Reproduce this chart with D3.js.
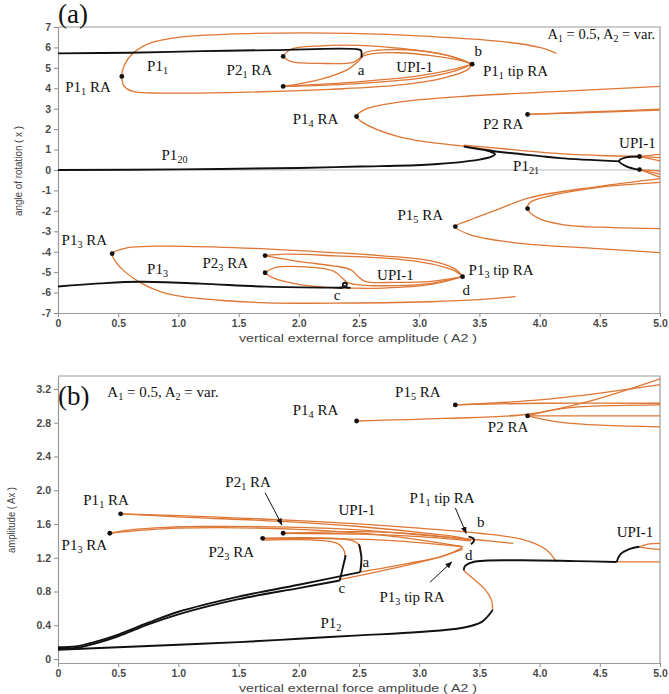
<!DOCTYPE html>
<html>
<head>
<meta charset="utf-8">
<script src="https://cdn.jsdelivr.net/npm/d3@7"></script>
<style>
  body { margin: 0; background: #fff; }
</style>
</head>
<body>
<div id="chart"></div>
<script>
'use strict';

// tick values
var xTicks = [0, 0.5, 1, 1.5, 2, 2.5, 3, 3.5, 4, 4.5, 5];
var yTicksA = [-7, -6, -5, -4, -3, -2, -1, 0, 1, 2, 3, 4, 5, 6, 7];
var yTicksB = [0, 0.4, 0.8, 1.2, 1.6, 2.0, 2.4, 2.8, 3.2];

// ---- panel (a): angle of rotation vs A2, points are [A2, x] ----
// orange (rare attractor) branches
var aP11RA = [[4.14,5.71],[4.0,6.0],[3.67,6.3],[3.09,6.54],[2.43,6.69],[1.59,6.68],[1.01,6.5],[0.76,6.2],[0.62,5.7],[0.55,5.11],[0.53,4.58],[0.55,4.1],[0.62,3.85],[0.8,3.77],[1.5,3.8],[2.26,3.95],[2.82,4.15],[3.2,4.5],[3.4,4.9],[3.44,5.18]];
var aP21Top = [[1.87,5.56],[1.93,5.9],[2.18,6.08],[2.51,6.1],[2.82,5.97],[3.23,5.62],[3.44,5.18]];
var aP21Mid = [[1.87,5.56],[1.93,5.32],[2.18,5.22],[2.45,5.27],[2.51,5.5],[2.55,5.74],[2.7,5.88],[3.01,5.83],[3.3,5.5],[3.44,5.18]];
var aUPI1Top = [[2.52,5.55],[2.6,5.68],[2.82,5.74],[3.1,5.6],[3.35,5.35],[3.44,5.18]];
var aP21Low1 = [[1.87,4.09],[2.18,4.44],[2.4,4.9],[2.49,5.3],[2.53,5.55]];
var aP21Low2 = [[1.87,4.09],[2.45,4.22],[3.01,4.5],[3.3,4.85],[3.44,5.18]];
var aP21Low3 = [[1.87,4.09],[2.45,4.3],[3.01,4.62],[3.3,4.95],[3.44,5.18]];
var aP14RA = [[5.0,4.09],[4.17,3.85],[3.36,3.6],[2.82,3.31],[2.55,2.97],[2.48,2.62],[2.53,2.33],[2.82,1.64],[3.09,1.35],[3.37,1.17],[3.6,0.98]];
var aP14Cont = [[3.37,1.22],[3.7,1.04],[4.17,0.8],[4.5,0.71],[4.83,0.66]];
var aP2RA1 = [[3.9,2.72],[4.4,2.84],[5.0,2.98]];
var aP2RA2 = [[3.9,2.72],[4.4,2.81],[5.0,2.93]];
var aUPIR1 = [[4.83,0.66],[4.92,0.72],[5.0,0.76]];
var aUPIR2 = [[4.83,0.66],[4.92,0.63],[5.0,0.61]];
var aUPIR3 = [[4.83,0.66],[4.92,0.55],[5.0,0.45]];
var aUPIR4 = [[4.83,0.02],[4.92,-0.02],[5.0,-0.05]];
var aUPIR5 = [[4.83,0.02],[4.92,-0.1],[5.0,-0.2]];
var aUPIR6 = [[4.83,0.02],[4.92,-0.18],[5.0,-0.35]];
var aP15RA = [[5.0,-0.42],[4.48,-0.81],[3.92,-1.35],[3.65,-1.94],[3.42,-2.45],[3.3,-2.77],[3.42,-3.16],[3.78,-3.55],[4.48,-3.85],[5.0,-4.04]];
var aP15In = [[5.0,-0.61],[4.48,-0.86],[4.06,-1.3],[3.92,-1.59],[3.9,-1.89],[3.98,-2.33],[4.19,-2.67],[4.61,-2.82],[5.0,-2.87]];
var aP13RA = [[3.36,-5.22],[3.3,-4.85],[3.09,-4.44],[2.7,-4.2],[2.28,-4.04],[1.46,-3.8],[0.8,-3.73],[0.58,-3.8],[0.45,-4.09],[0.48,-4.5],[0.55,-4.95],[0.68,-5.5],[0.85,-5.95],[1.04,-6.2],[1.4,-6.4],[1.73,-6.5],[2.28,-6.52],[3.09,-6.45],[3.5,-6.35],[3.8,-6.2]];
var aP23Up1 = [[1.72,-4.19],[1.9,-4.12],[2.3,-4.2],[2.8,-4.35],[3.1,-4.6],[3.3,-4.95],[3.36,-5.22]];
var aP23Up2 = [[1.72,-4.19],[2.01,-4.49],[2.43,-4.88],[2.49,-5.2],[2.55,-5.45],[2.8,-5.5],[3.1,-5.45],[3.36,-5.22]];
var aP23Loop1 = [[1.72,-5.03],[1.8,-4.78],[2.01,-4.73],[2.28,-4.93],[2.36,-5.27],[2.4,-5.5],[2.5,-5.62],[2.8,-5.66],[3.1,-5.55],[3.36,-5.22]];
var aP23Loop2 = [[1.72,-5.03],[1.78,-5.27],[2.01,-5.61],[2.28,-5.76],[2.4,-5.78],[2.7,-5.78],[3.1,-5.6],[3.36,-5.22]];
// black (main) branches
var aP11 = [[0,5.71],[0.6,5.74],[1.2,5.82],[1.8,5.87],[2.51,5.88],[2.52,5.8],[2.52,5.5]];
var aP120 = [[0,0],[1,0.03],[2,0.1],[2.5,0.17],[3.09,0.27],[3.5,0.51],[3.6,0.65],[3.63,0.78],[3.6,0.88],[3.55,0.97]];
var aP121 = [[3.37,1.15],[3.61,0.93],[4.0,0.68],[4.17,0.58],[4.67,0.42]];
var aUPIBlack = [[4.83,0.66],[4.72,0.62],[4.66,0.45],[4.72,0.18],[4.82,0.02]];
var aP13 = [[0,-5.7],[0.35,-5.55],[0.68,-5.47],[1.18,-5.56],[1.73,-5.71],[2.28,-5.76],[2.37,-5.76]];
var aCHook = [[2.33,-5.77],[2.38,-5.72],[2.4,-5.6],[2.385,-5.52],[2.365,-5.58],[2.38,-5.72],[2.43,-5.77]];
var dotsA = [[0.53,4.58],[1.87,5.56],[1.87,4.09],[3.44,5.18],[2.48,2.62],[3.9,2.72],[4.83,0.66],[4.83,0.02],[3.3,-2.77],[3.9,-1.89],[0.45,-4.09],[1.72,-4.19],[1.72,-5.03],[3.36,-5.22]];
var labelsA = [
  ['P1_{1}', 0.74, 4.83], ['P1_{1} RA', 0.06, 3.8], ['P2_{1} RA', 1.4, 4.63], ['a', 2.49, 4.63],
  ['UPI-1', 2.81, 4.78], ['b', 3.46, 5.56], ['P1_{1} tip RA', 3.53, 4.58], ['P1_{4} RA', 1.95, 2.23],
  ['P2 RA', 3.53, 1.99], ['P1_{20}', 0.86, 0.51], ['UPI-1', 4.66, 1.1], ['P1_{21}', 3.78, -0.07],
  ['P1_{5} RA', 2.82, -2.43], ['P1_{3} RA', 0.03, -3.65], ['P1_{3}', 0.74, -5.07], ['P2_{3} RA', 1.2, -4.78],
  ['UPI-1', 2.65, -5.37], ['P1_{3} tip RA', 3.41, -5.12], ['c', 2.29, -6.35], ['d', 3.36, -6.1]
];

// ---- panel (b): amplitude vs A2, points are [A2, Ax] ----
var bP11RA1 = [[0.52,1.72],[1.0,1.7],[1.5,1.67],[2.0,1.64],[2.5,1.6],[3.0,1.55],[3.5,1.49],[3.85,1.42],[4.05,1.3],[4.14,1.15]];
var bP11RA2 = [[0.52,1.72],[1.0,1.685],[2.0,1.62],[2.5,1.57],[3.0,1.5],[3.3,1.45],[3.43,1.41]];
var bP13RA1 = [[0.43,1.49],[0.6,1.53],[0.9,1.56],[1.2,1.57],[2.0,1.56],[2.5,1.53],[3.0,1.47],[3.5,1.41],[3.78,1.37]];
var bP13RA2 = [[0.43,1.49],[1.0,1.55],[2.0,1.535],[2.8,1.45],[3.36,1.33]];
var bP21a = [[1.87,1.49],[2.5,1.48],[3.0,1.45],[3.43,1.4]];
var bP21b = [[1.87,1.49],[2.5,1.51],[3.0,1.48],[3.43,1.41]];
var bP23Tip = [[1.7,1.43],[2.5,1.42],[3.0,1.38],[3.36,1.33]];
var bP23A = [[1.7,1.43],[2.45,1.4],[2.51,1.33],[2.51,1.26]];
var bP23C = [[1.7,1.41],[2.32,1.37],[2.38,1.27],[2.38,1.21]];
var bAtoD = [[2.51,1.03],[2.9,1.13],[3.2,1.22],[3.36,1.32]];
var bCtoD = [[2.34,0.94],[2.8,1.08],[3.1,1.18],[3.36,1.3]];
var bP12Fold = [[3.61,0.58],[3.6,0.7],[3.55,0.82],[3.45,0.95],[3.37,1.05]];
var bP14RA = [[2.48,2.82],[3.2,2.85],[3.9,2.9],[4.4,3.05],[5.0,3.32]];
var bP15a = [[3.3,3.01],[4.0,3.03],[5.0,3.03]];
var bP15b = [[3.3,3.01],[4.0,3.07],[4.5,3.15],[5.0,3.25]];
var bP2a = [[3.9,2.88],[4.2,2.97],[5.0,3.01]];
var bP2b = [[3.9,2.88],[4.4,2.88],[5.0,2.88]];
var bP2c = [[3.9,2.88],[4.2,2.8],[5.0,2.75]];
var bUPIR1 = [[4.83,1.33],[4.9,1.36],[5.0,1.37]];
var bUPIR2 = [[4.83,1.33],[4.9,1.31],[5.0,1.3]];
var bUPIR3 = [[4.64,1.15],[4.8,1.15],[5.0,1.15]];
var bP11 = [[0,0.14],[0.15,0.15],[0.3,0.2],[0.5,0.29],[0.75,0.43],[1.0,0.56],[1.5,0.74],[2.0,0.88],[2.51,1.03]];
var bABlack = [[2.51,1.03],[2.52,1.2],[2.5,1.36]];
var bP13 = [[0,0.13],[0.15,0.13],[0.3,0.18],[0.5,0.27],[0.75,0.41],[1.0,0.53],[1.5,0.71],[2.0,0.84],[2.34,0.93]];
var bCBlack = [[2.34,0.93],[2.36,1.05],[2.39,1.23]];
var bP12 = [[0,0.11],[0.5,0.14],[1.0,0.17],[1.5,0.2],[2.0,0.24],[2.5,0.28],[3.0,0.32],[3.36,0.37],[3.52,0.44],[3.61,0.58]];
var bFlat = [[3.37,1.05],[3.38,1.1],[3.45,1.15],[3.8,1.17],[4.3,1.16],[4.64,1.15]];
var bUPIBlack = [[4.64,1.15],[4.67,1.24],[4.74,1.3],[4.83,1.33]];
var bBTip = [[3.41,1.45],[3.45,1.43],[3.455,1.4],[3.43,1.36]];
var dotsB = [[2.48,2.82],[3.3,3.01],[3.9,2.88],[0.52,1.72],[0.43,1.49],[1.87,1.49],[1.7,1.43]];
var arrowsB = [[[1.72,1.97],[1.86,1.59]], [[3.3,1.79],[3.39,1.49]], [[3.09,0.91],[3.27,1.15]]];
var labelsB = [
  ['A_{1} = 0.5, A_{2} = var.', 0.41, 3.1], ['P1_{4} RA', 1.95, 2.89], ['P1_{5} RA', 2.8, 3.1], ['P2 RA', 3.57, 2.69],
  ['P2_{1} RA', 1.39, 2.04], ['P1_{1} RA', 0.21, 1.82], ['UPI-1', 2.33, 1.71], ['P1_{1} tip RA', 2.92, 1.85],
  ['b', 3.48, 1.56], ['P1_{3} RA', 0.03, 1.29], ['P2_{3} RA', 1.25, 1.21], ['a', 2.53, 1.09],
  ['d', 3.38, 1.17], ['c', 2.33, 0.78], ['P1_{3} tip RA', 2.67, 0.68], ['P1_{2}', 2.18, 0.37], ['UPI-1', 4.64, 1.45]
];

var ORANGE = '#de7634';
var SERIF = '"Liberation Serif", "Times New Roman", serif';
var SANS = '"Liberation Sans", Arial, sans-serif';

var svg = d3.select('#chart').append('svg')
  .attr('width', 669)
  .attr('height', 694);

svg.append('defs').append('marker')
  .attr('id', 'arrow')
  .attr('viewBox', '0 0 10 10')
  .attr('refX', 9).attr('refY', 5)
  .attr('markerWidth', 7).attr('markerHeight', 7)
  .attr('orient', 'auto')
  .append('path')
  .attr('d', 'M0,1 L10,5 L0,9 z')
  .attr('fill', '#111');

// text with _{sub} markup
function addLabel(g, px, py, str, size, anchor) {
  var t = g.append('text')
    .attr('x', px).attr('y', py)
    .attr('font-family', SERIF)
    .attr('font-size', size)
    .attr('fill', '#111')
    .attr('text-anchor', anchor || 'start');
  var shift = 0;
  str.split(/(_\{[^}]*\})/).forEach(function(part) {
    if (!part) return;
    if (part.charAt(0) === '_') {
      t.append('tspan').attr('font-size', size * 0.68).attr('dy', 3 - shift).text(part.slice(2, -1));
      shift = 3;
    } else {
      t.append('tspan').attr('dy', -shift).text(part);
      shift = 0;
    }
  });
}

function drawPanel(cfg) {
  var x = d3.scaleLinear().domain([0, 5]).range([58, 660]);
  var y = d3.scaleLinear().domain(cfg.yDomain).range([cfg.bottom, cfg.top]);
  var g = svg.append('g');

  // frame (top + right)
  g.append('path')
    .attr('d', 'M58,' + cfg.top + 'H660V' + cfg.bottom)
    .attr('fill', 'none').attr('stroke', '#9a9a9a').attr('stroke-width', 1.2);

  if (cfg.zeroLine) {
    g.append('line')
      .attr('x1', x(0)).attr('x2', x(5))
      .attr('y1', y(0)).attr('y2', y(0))
      .attr('stroke', '#d0d0d0').attr('stroke-width', 1.6);
  }

  var xAxis = g.append('g')
    .attr('transform', 'translate(0,' + cfg.bottom + ')')
    .call(d3.axisBottom(x).tickValues(xTicks).tickSize(4).tickSizeOuter(0)
      .tickFormat(function(d) { return d === 0 ? '0' : d.toFixed(1); }));
  var yAxis = g.append('g')
    .attr('transform', 'translate(58,0)')
    .call(d3.axisLeft(y).tickValues(cfg.yTicks).tickSize(4).tickSizeOuter(0).tickFormat(cfg.yFormat));
  [xAxis, yAxis].forEach(function(ax) {
    ax.select('.domain').attr('stroke', '#9a9a9a').attr('stroke-width', 1.2);
    ax.selectAll('.tick line').attr('stroke', '#8a8a8a');
    ax.selectAll('.tick text')
      .attr('font-family', SANS).attr('font-size', 10.5)
      .attr('font-weight', 'bold').attr('fill', '#4a4a4a');
  });

  g.append('text')
    .attr('x', 358).attr('y', cfg.bottom + 29)
    .attr('text-anchor', 'middle')
    .attr('font-family', SANS).attr('font-size', 11.5).attr('fill', '#444')
    .attr('textLength', 238).attr('lengthAdjust', 'spacingAndGlyphs')
    .text('vertical external force amplitude  ( A2 )');

  g.append('text')
    .attr('transform', 'translate(' + cfg.yLabelX + ',' + cfg.yLabelY + ') rotate(-90)')
    .attr('text-anchor', 'middle')
    .attr('font-family', SANS).attr('font-size', 10.5).attr('fill', '#444')
    .attr('textLength', cfg.yLabelLen).attr('lengthAdjust', 'spacingAndGlyphs')
    .text(cfg.yLabel);

  var line = d3.line()
    .x(function(d) { return x(d[0]); })
    .y(function(d) { return y(d[1]); })
    .curve(d3.curveCatmullRom.alpha(0.5));

  cfg.orange.forEach(function(pts) {
    g.append('path').attr('d', line(pts))
      .attr('fill', 'none').attr('stroke', ORANGE).attr('stroke-width', 1.3);
  });
  cfg.black.forEach(function(pts) {
    g.append('path').attr('d', line(pts))
      .attr('fill', 'none').attr('stroke', '#111').attr('stroke-width', 1.9);
  });

  g.selectAll('.dot')
    .data(cfg.dots)
    .enter()
    .append('circle')
    .attr('cx', function(d) { return x(d[0]); })
    .attr('cy', function(d) { return y(d[1]); })
    .attr('r', 2.4)
    .attr('fill', '#111');

  (cfg.arrows || []).forEach(function(a) {
    g.append('line')
      .attr('x1', x(a[0][0])).attr('y1', y(a[0][1]))
      .attr('x2', x(a[1][0])).attr('y2', y(a[1][1]))
      .attr('stroke', '#111').attr('stroke-width', 1)
      .attr('marker-end', 'url(#arrow)');
  });

  cfg.labels.forEach(function(l) {
    addLabel(g, x(l[1]), y(l[2]), l[0], 15);
  });

  addLabel(g, 58, cfg.panelY, cfg.panel, 27);
  return { g: g, x: x, y: y };
}

var pa = drawPanel({
  yDomain: [-7, 7], top: 27, bottom: 313,
  yTicks: yTicksA, yFormat: function(d) { return String(d); },
  zeroLine: true,
  yLabel: 'angle of rotation ( x )', yLabelX: 22, yLabelY: 171, yLabelLen: 90,
  orange: [aP11RA, aP21Top, aP21Mid, aUPI1Top, aP21Low1, aP21Low2, aP21Low3, aP14RA, aP14Cont,
    aP2RA1, aP2RA2, aUPIR1, aUPIR2, aUPIR3, aUPIR4, aUPIR5, aUPIR6, aP15RA, aP15In,
    aP13RA, aP23Up1, aP23Up2, aP23Loop1, aP23Loop2],
  black: [aP11, aP120, aP121, aUPIBlack, aP13, aCHook],
  dots: dotsA,
  labels: labelsA,
  panel: '(a)', panelY: 23
});
addLabel(pa.g, pa.x(4.96), pa.y(6.4), 'A_{1} = 0.5, A_{2} = var.', 14.5, 'end');

drawPanel({
  yDomain: [-0.047, 3.353], top: 376, bottom: 663,
  yTicks: yTicksB, yFormat: function(d) { return d === 0 ? '0' : d.toFixed(1); },
  zeroLine: false,
  yLabel: 'amplitude ( Ax )', yLabelX: 15, yLabelY: 520, yLabelLen: 66,
  orange: [bP11RA1, bP11RA2, bP13RA1, bP13RA2, bP21a, bP21b, bP23Tip, bP23A, bP23C, bAtoD, bCtoD,
    bP12Fold, bP14RA, bP15a, bP15b, bP2a, bP2b, bP2c, bUPIR1, bUPIR2, bUPIR3],
  black: [bP11, bABlack, bP13, bCBlack, bP12, bFlat, bUPIBlack, bBTip],
  dots: dotsB,
  arrows: arrowsB,
  labels: labelsB,
  panel: '(b)', panelY: 405
});
</script>
</body>
</html>
